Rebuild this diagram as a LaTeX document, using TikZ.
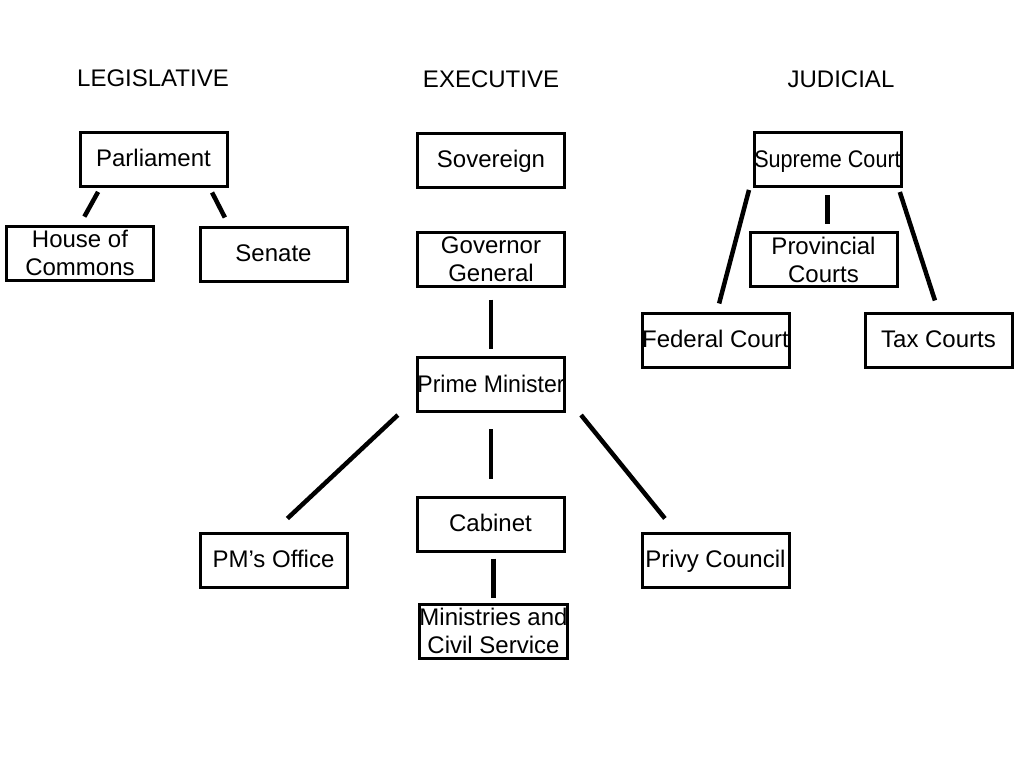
\documentclass[tikz,border=0pt]{standalone}
\usepackage{fontspec}
\setmainfont{Liberation Sans}
\usetikzlibrary{calc}
\tikzset{
  box/.style={draw=black, line width=3pt, minimum width=147pt, minimum height=54pt, inner sep=0pt, align=center, font=\fontsize{24}{28}\selectfont},
  onel/.style={text height=17pt, text depth=2pt},
  head/.style={inner sep=0pt, font=\fontsize{24}{28}\selectfont},
  conn/.style={draw=black, line width=4.5pt}
}
\begin{document}
\begin{tikzpicture}[x=1pt,y=-1pt]
\useasboundingbox (0,0) rectangle (1024,768);
\fill[white] (0,0) rectangle (1024,768);
% headers
\node[head] (hleg) at (153,78) {LEGISLATIVE};
\node[head] (hexe) at (491,79) {EXECUTIVE};
\node[head] (hjud) at (841,79) {JUDICIAL};
% boxes
\node[box,onel] (parl) at (153.5,159) {Parliament};
\node[box] (hoc) at (80,253) {House of\\Commons};
\node[box,onel] (senate) at (273.5,254) {Senate};
\node[box,onel] (sov) at (491,160) {Sovereign};
\node[box] (gg) at (491,259) {Governor\\General};
\node[box,onel] (pm) at (491,384.5) {\scalebox{0.96}[1]{Prime Minister}};
\node[box,onel] (sc) at (827.5,159.5) {\scalebox{0.9}[1]{Supreme Court}};
\node[box] (prov) at (823.5,259.5) {Provincial\\Courts};
\node[box,onel] (fc) at (715.5,340) {Federal Court};
\node[box,onel] (tax) at (938.5,340) {Tax Courts};
\node[box,onel] (cab) at (490.5,524) {Cabinet};
\node[box,onel] (pmo) at (273.5,560) {PM’s Office};
\node[box,onel] (privy) at (715.5,560) {Privy Council};
\node[box] (min) at (493.5,631) {Ministries and\\Civil Service};
% connectors
\draw[conn, shorten <=5pt, shorten >=9pt] ($(parl.south)+(-53,0)$) -- (hoc.north);
\draw[conn, shorten <=5.6pt, shorten >=9pt] ($(parl.south)+(56,0)$) -- ($(senate.north)+(-44.5,0)$);
\draw[conn, shorten <=12pt, shorten >=7pt] (gg.south) -- (pm.north);
\draw[conn, shorten <=2pt, shorten >=8.3pt] ($(sc.south)+(-78,0)$) -- ($(fc.north)+(1.5,0)$);
\draw[conn, shorten <=7pt, shorten >=7pt] (sc.south) -- (sc.south |- prov.north);
\draw[conn, shorten <=4.2pt, shorten >=11.6pt] ($(sc.south)+(71,0)$) -- (tax.north);
\draw[conn, shorten <=3pt, shorten >=19pt] ($(pm.south)+(-91,0)$) -- (pmo.north);
\draw[conn, shorten <=16pt, shorten >=17pt] (pm.south) -- (pm.south |- cab.north);
\draw[conn, shorten <=2.6pt, shorten >=16.8pt] ($(pm.south)+(88.4,0)$) -- ($(privy.north)+(-40,0)$);
\draw[conn, shorten <=6pt, shorten >=5pt] (cab.south -| min.north) -- (min.north);
\end{tikzpicture}
\end{document}
